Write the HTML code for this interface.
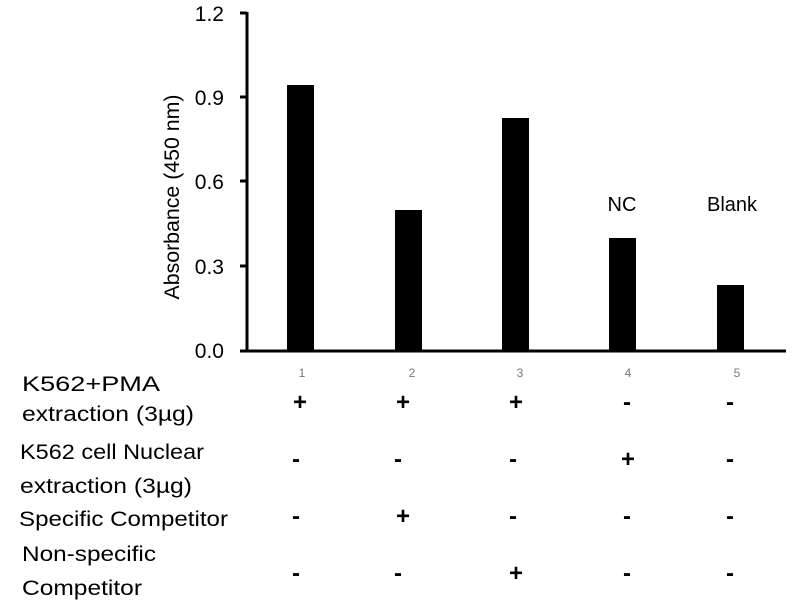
<!DOCTYPE html>
<html><head><style>
body{margin:0;background:#fff;}
svg text{font-family:"Liberation Sans",sans-serif;}
</style></head><body>
<svg width="800" height="600" xmlns="http://www.w3.org/2000/svg">
<rect width="800" height="600" fill="#fff"/>
<g stroke="#000" stroke-width="3">
<line x1="247" y1="12" x2="247" y2="352"/>
<line x1="240" y1="351" x2="786" y2="351"/>
<line x1="240" y1="13" x2="247" y2="13"/>
<line x1="240" y1="97" x2="247" y2="97"/>
<line x1="240" y1="181" x2="247" y2="181"/>
<line x1="240" y1="266" x2="247" y2="266"/>
</g>
<g font-size="21" text-anchor="end" fill="#000">
<text x="224" y="21">1.2</text>
<text x="224" y="105">0.9</text>
<text x="224" y="189">0.6</text>
<text x="224" y="274">0.3</text>
<text x="224" y="358">0.0</text>
</g>
<text transform="translate(179,197) rotate(-90)" font-size="21" text-anchor="middle" textLength="205" lengthAdjust="spacingAndGlyphs">Absorbance (450 nm)</text>
<g fill="#000">
<rect x="287" y="85" width="27" height="266"/>
<rect x="395" y="210" width="27" height="141"/>
<rect x="502" y="118" width="27" height="233"/>
<rect x="609" y="238" width="27" height="113"/>
<rect x="717" y="285" width="27" height="66"/>
</g>
<text x="622" y="211" font-size="20" text-anchor="middle">NC</text>
<text x="732" y="211" font-size="20" text-anchor="middle">Blank</text>
<g font-size="12" fill="#777" text-anchor="middle">
<text x="302" y="377">1</text><text x="412" y="377">2</text><text x="520" y="377">3</text><text x="628" y="377">4</text><text x="737" y="377">5</text>
</g>
<g font-size="21" fill="#000">
<text x="22" y="391" textLength="138" lengthAdjust="spacingAndGlyphs">K562+PMA</text>
<text x="22" y="421" textLength="172" lengthAdjust="spacingAndGlyphs">extraction (3µg)</text>
<text x="20" y="459" textLength="184" lengthAdjust="spacingAndGlyphs">K562 cell Nuclear</text>
<text x="20" y="493" textLength="172" lengthAdjust="spacingAndGlyphs">extraction (3µg)</text>
<text x="19" y="526" textLength="209" lengthAdjust="spacingAndGlyphs">Specific Competitor</text>
<text x="22" y="561" textLength="134" lengthAdjust="spacingAndGlyphs">Non-specific</text>
<text x="22" y="595" textLength="120" lengthAdjust="spacingAndGlyphs">Competitor</text>
</g>
<g font-size="24" font-weight="bold" text-anchor="middle">
<text x="300" y="410">+</text><text x="403" y="410">+</text><text x="516" y="410">+</text><text x="627" y="410">-</text><text x="730" y="410">-</text>
<text x="296" y="467">-</text><text x="398" y="467">-</text><text x="513" y="467">-</text><text x="628" y="467">+</text><text x="730" y="467">-</text>
<text x="296" y="524">-</text><text x="403" y="524">+</text><text x="513" y="524">-</text><text x="627" y="524">-</text><text x="730" y="524">-</text>
<text x="296" y="581">-</text><text x="398" y="581">-</text><text x="516" y="581">+</text><text x="627" y="581">-</text><text x="730" y="581">-</text>
</g>
</svg>
</body></html>
